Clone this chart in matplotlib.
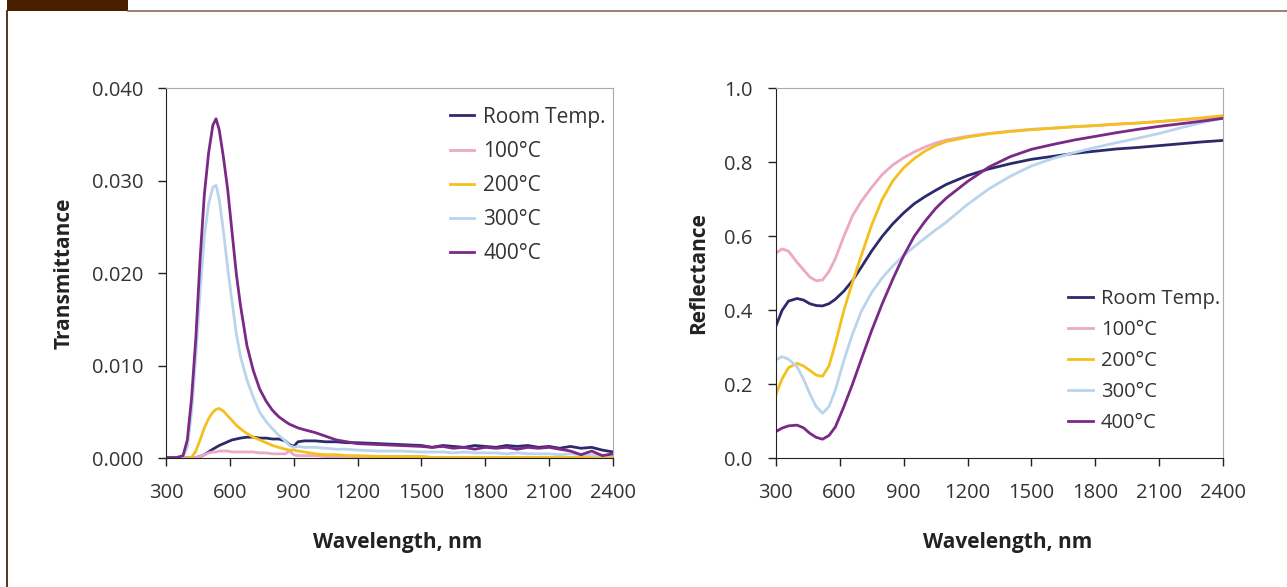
import matplotlib
matplotlib.use("Agg")
import matplotlib.pyplot as plt
from matplotlib.lines import Line2D
from matplotlib.patches import Rectangle

plt.rcParams['font.family'] = ['Open Sans', 'DejaVu Sans']

labels = ["Room Temp.", "100°C", "200°C", "300°C", "400°C"]
colors = ["#2d2a6b", "#eca8c6", "#f4c01e", "#bad4ec", "#7b2986"]

# --- transmittance (left) ---
wl_t = [300, 350, 380, 400, 420, 440, 460, 480, 500, 520, 535, 550, 570, 590, 610, 630, 650,
        680, 710, 740, 770, 800, 830, 860, 880, 900, 920, 950, 1000, 1050, 1100, 1150, 1200,
        1300, 1400, 1500, 1550, 1600, 1650, 1700, 1750, 1800, 1850, 1900, 1950, 2000, 2050,
        2100, 2150, 2200, 2250, 2300, 2350, 2400]
t_room = [0.0001, 0.0001, 0.0001, 0.0001, 0.0001, 0.0001, 0.0002, 0.0004, 0.0007, 0.0010, 0.0012,
          0.0014, 0.0016, 0.0018, 0.0020, 0.0021, 0.0022, 0.0023, 0.0023, 0.0022, 0.0022, 0.0021,
          0.0021, 0.0019, 0.0015, 0.0013, 0.0018, 0.0019, 0.0019, 0.0018, 0.0018, 0.0017, 0.0017,
          0.0016, 0.0015, 0.0014, 0.0012, 0.0014, 0.0013, 0.0012, 0.0014, 0.0013, 0.0012, 0.0014,
          0.0013, 0.0014, 0.0012, 0.0013, 0.0011, 0.0013, 0.0011, 0.0012, 0.0009, 0.0007]
t_100 = [0.0001, 0.0001, 0.0001, 0.0001, 0.0001, 0.0001, 0.0002, 0.0004, 0.0006, 0.0007, 0.0007,
         0.0008, 0.0008, 0.0008, 0.0007, 0.0007, 0.0007, 0.0007, 0.0007, 0.0006, 0.0006, 0.0005,
         0.0005, 0.0005, 0.0008, 0.0004, 0.0003, 0.0003, 0.0003, 0.0002, 0.0002, 0.0002, 0.0002,
         0.0002, 0.0002, 0.0002, 0.0001, 0.0001, 0.0001, 0.0001, 0.0001, 0.0001, 0.0001, 0.0001,
         0.0001, 0.0001, 0.0001, 0.0001, 0.0001, 0.0001, 0.0001, 0.0001, 0.0001, 0.0001]
t_200 = [0.0, 0.0, 0.0, 0.0, 0.0001, 0.0008, 0.0020, 0.0033, 0.0043, 0.0050, 0.0053,
         0.0054, 0.0051, 0.0046, 0.0041, 0.0036, 0.0032, 0.0027, 0.0023, 0.0020, 0.0017, 0.0014,
         0.0012, 0.0010, 0.0009, 0.0009, 0.0008, 0.0007, 0.0005, 0.0004, 0.0004, 0.0003, 0.0003,
         0.0002, 0.0002, 0.0002, 0.0001, 0.0001, 0.0001, 0.0001, 0.0001, 0.0001, 0.0001, 0.0001,
         0.0001, 0.0001, 0.0001, 0.0001, 0.0001, 0.0001, 0.0001, 0.0001, 0.0001, 0.0001]
t_300 = [0.0001, 0.0001, 0.0002, 0.0012, 0.0050, 0.0110, 0.0180, 0.0240, 0.0275, 0.0293, 0.0295,
         0.0280, 0.0245, 0.0205, 0.0170, 0.0135, 0.0110, 0.0085, 0.0066, 0.0050, 0.0040, 0.0032,
         0.0025, 0.0019, 0.0014, 0.0012, 0.0013, 0.0012, 0.0012, 0.0011, 0.0010, 0.0010, 0.0009,
         0.0008, 0.0008, 0.0007, 0.0007, 0.0007, 0.0006, 0.0007, 0.0006, 0.0006, 0.0006, 0.0005,
         0.0006, 0.0005, 0.0005, 0.0005, 0.0004, 0.0005, 0.0004, 0.0004, 0.0003, 0.0004]
t_400 = [0.0001, 0.0001, 0.0003, 0.0020, 0.0065, 0.0130, 0.0215, 0.0285, 0.0330, 0.0360, 0.0367,
         0.0355, 0.0325, 0.0290, 0.0245, 0.0200, 0.0165, 0.0122, 0.0095, 0.0075, 0.0062, 0.0052,
         0.0045, 0.0040, 0.0037, 0.0035, 0.0033, 0.0031, 0.0028, 0.0024, 0.0020, 0.0018, 0.0016,
         0.0015, 0.0014, 0.0013, 0.0012, 0.0013, 0.0011, 0.0012, 0.0010, 0.0012, 0.0011, 0.0012,
         0.0010, 0.0012, 0.0011, 0.0012, 0.0010, 0.0008, 0.0004, 0.0008, 0.0003, 0.0005]

# --- reflectance (right) ---
wl_r = [300, 330, 360, 400, 430, 460, 490, 520, 550, 580, 620, 660, 700, 750, 800, 850, 900,
        950, 1000, 1050, 1100, 1200, 1300, 1400, 1500, 1600, 1700, 1800, 1900, 2000, 2100,
        2200, 2300, 2400]
r_room = [0.356, 0.400, 0.425, 0.432, 0.428, 0.418, 0.413, 0.412, 0.418, 0.430, 0.452, 0.480,
          0.515, 0.560, 0.600, 0.634, 0.663, 0.688, 0.707, 0.724, 0.740, 0.764, 0.782, 0.796,
          0.808, 0.816, 0.824, 0.830, 0.836, 0.840, 0.845, 0.850, 0.855, 0.859]
r_100 = [0.554, 0.566, 0.560, 0.530, 0.510, 0.490, 0.480, 0.482, 0.505, 0.540, 0.600, 0.655,
         0.693, 0.732, 0.767, 0.793, 0.812, 0.828, 0.841, 0.852, 0.860, 0.870, 0.878, 0.884,
         0.889, 0.892, 0.896, 0.899, 0.903, 0.906, 0.910, 0.914, 0.918, 0.922]
r_200 = [0.171, 0.215, 0.245, 0.257, 0.250, 0.238, 0.225, 0.222, 0.250, 0.310, 0.400, 0.475,
         0.545, 0.630, 0.700, 0.750, 0.785, 0.810, 0.830, 0.845, 0.856, 0.868, 0.877, 0.883,
         0.888, 0.892, 0.896, 0.899, 0.903, 0.906, 0.910, 0.915, 0.920, 0.926]
r_300 = [0.266, 0.275, 0.268, 0.248, 0.215, 0.175, 0.140, 0.122, 0.140, 0.185, 0.265, 0.335,
         0.395, 0.448, 0.488, 0.520, 0.548, 0.572, 0.595, 0.617, 0.638, 0.686, 0.728, 0.762,
         0.790, 0.810, 0.826, 0.840, 0.853, 0.865, 0.878, 0.893, 0.907, 0.919]
r_400 = [0.072, 0.082, 0.088, 0.090, 0.083, 0.068, 0.057, 0.052, 0.062, 0.085, 0.140, 0.200,
         0.265, 0.345, 0.418, 0.485, 0.547, 0.600, 0.640, 0.675, 0.703, 0.748, 0.787, 0.815,
         0.835, 0.848, 0.860, 0.870, 0.880, 0.889, 0.897, 0.904, 0.911, 0.919]

xticks = [300, 600, 900, 1200, 1500, 1800, 2100, 2400]

fig = plt.figure(figsize=(12.87, 5.87), dpi=100)
ax1 = fig.add_axes([0.129, 0.219, 0.3473, 0.6307])
ax2 = fig.add_axes([0.6027, 0.219, 0.3478, 0.6307])

for ys, c, lab in zip([t_room, t_100, t_200, t_300, t_400], colors, labels):
    ax1.plot(wl_t, ys, color=c, lw=2.0, label=lab)
for ys, c, lab in zip([r_room, r_100, r_200, r_300, r_400], colors, labels):
    ax2.plot(wl_r, ys, color=c, lw=2.0, label=lab)

ax1.set_ylim(0, 0.040)
ax1.set_yticks([0.0, 0.01, 0.02, 0.03, 0.04])
ax1.set_yticklabels(["0.000", "0.010", "0.020", "0.030", "0.040"])
ax2.set_ylim(0, 1.0)
ax2.set_yticks([0.0, 0.2, 0.4, 0.6, 0.8, 1.0])
ax2.set_yticklabels(["0.0", "0.2", "0.4", "0.6", "0.8", "1.0"])

for ax in (ax1, ax2):
    ax.set_xlim(300, 2400)
    ax.set_xticks(xticks)
    ax.tick_params(axis="both", direction="out", length=6, width=1, colors="#222",
                   labelsize=14.5, labelcolor="#333")
    ax.tick_params(axis="x", pad=12)
    ax.tick_params(axis="y", pad=10.5)
    ax.spines["left"].set_color("#222")
    ax.spines["bottom"].set_color("#222")
    for s in ("top", "right"):
        ax.spines[s].set_color("#aaaaaa")
        ax.spines[s].set_linewidth(0.8)
    ax.set_xlabel("Wavelength, nm", fontsize=15, fontweight="bold", color="#222")
    ax.xaxis.set_label_coords(0.518, -0.2)

ax1.set_ylabel("Transmittance", fontsize=15, fontweight="bold", color="#222")
ax1.yaxis.set_label_coords(-0.204, 0.5)
ax2.set_ylabel("Reflectance", fontsize=15, fontweight="bold", color="#222")
ax2.yaxis.set_label_coords(-0.149, 0.5)

ax1.legend(loc="upper left", bbox_to_anchor=(0.635, 0.95), frameon=False, fontsize=15,
           handlelength=1.15, handletextpad=0.45, labelspacing=0.63, borderaxespad=0, borderpad=0,
           labelcolor="#333")
ax2.legend(loc="upper left", bbox_to_anchor=(0.652, 0.457), frameon=False, fontsize=14.5,
           handlelength=1.25, handletextpad=0.4, labelspacing=0.54, borderaxespad=0, borderpad=0,
           labelcolor="#333")

# page decoration: brown tab and rules
fig.add_artist(Rectangle((0.0054, 0.9813), 0.0941, 0.0187, transform=fig.transFigure,
                         facecolor="#4a1f00", edgecolor="none"))
fig.add_artist(Line2D([0.0995, 1.0], [0.9805, 0.9805], transform=fig.transFigure,
                      color="#8a6a58", lw=1.2))
fig.add_artist(Line2D([0.0058, 0.0058], [0.0, 0.981], transform=fig.transFigure,
                      color="#5a3518", lw=1.4))

fig.savefig("out.png", dpi=100)
